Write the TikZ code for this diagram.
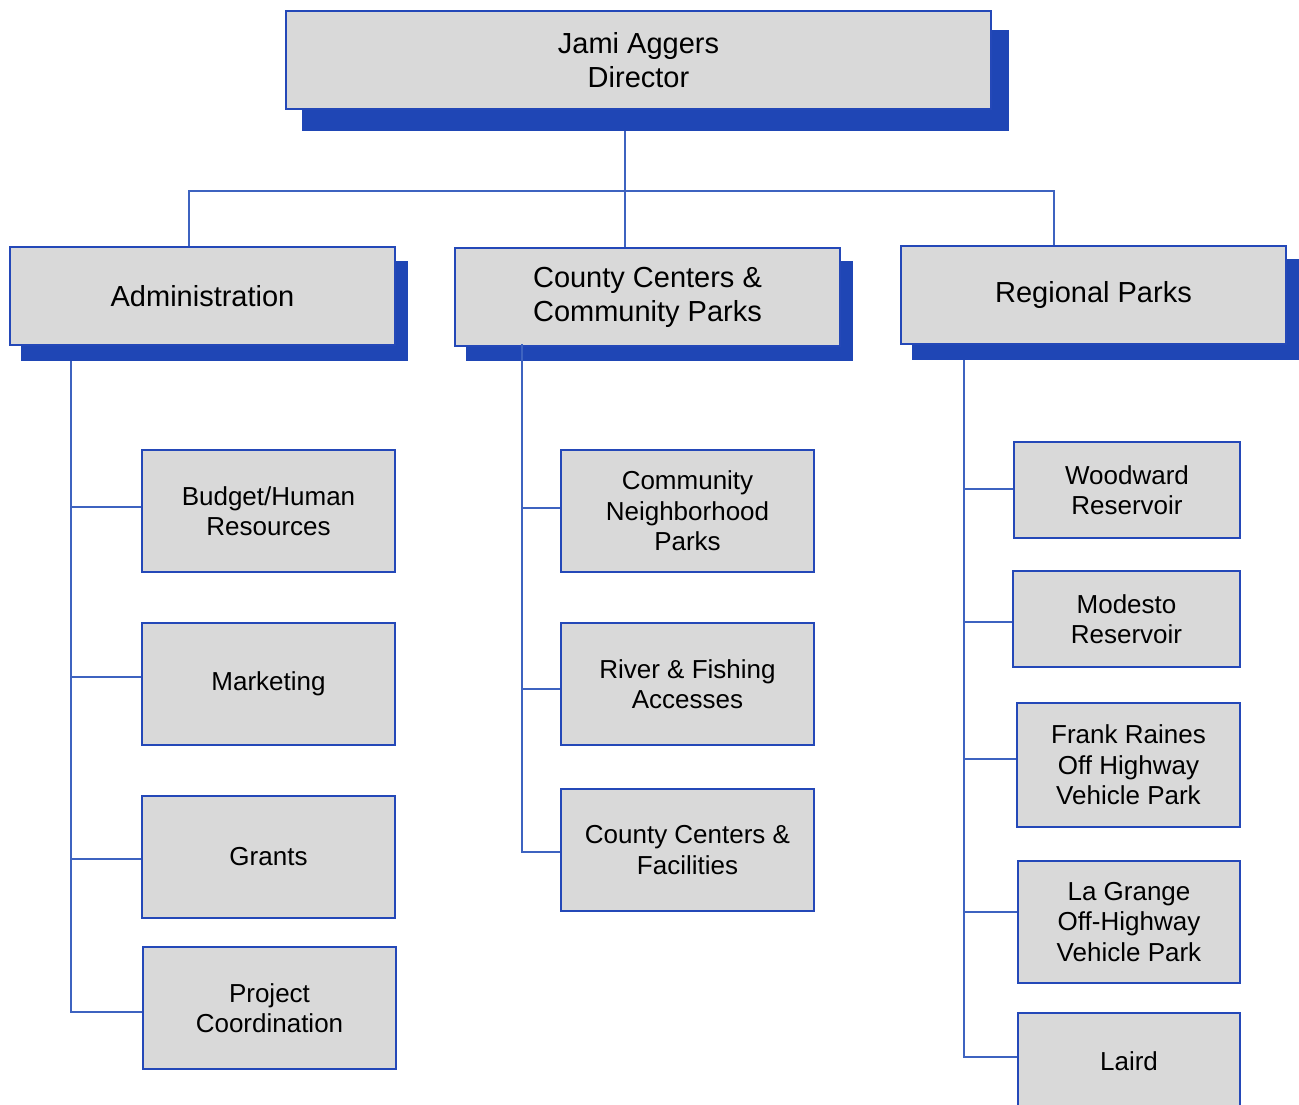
\documentclass[tikz,border=0pt]{standalone}
\usepackage{fontspec}
\setmainfont{Liberation Sans}
\definecolor{boxfill}{RGB}{217,217,217}
\definecolor{boxline}{RGB}{36,72,184}
\definecolor{shadowc}{RGB}{31,70,181}
\definecolor{connc}{RGB}{62,99,192}
\tikzset{
  orgbox/.style={draw=boxline, line width=1.5pt, fill=boxfill, inner sep=0pt, align=center, text=black},
  bigtext/.style={font=\fontsize{29}{34}\selectfont},
  smalltext/.style={font=\fontsize{26}{30.5}\selectfont},
  shadowbox/.style={fill=shadowc},
  conn/.style={draw=connc, line width=1.5pt},
}
\newcommand{\obox}[7]{%
  \node[orgbox,#7, minimum width={#4-#2}, minimum height={#5-#3}] (#1) at ({(#2+#4)/2},{(#3+#5)/2}) {#6};}
\begin{document}
\begin{tikzpicture}[x=1pt,y=-1pt]
\useasboundingbox (0,0) rectangle (1299,1105);
% shadows
\fill[shadowbox] (302,30) rectangle (1009,131);
\fill[shadowbox] (21,261) rectangle (408,361);
\fill[shadowbox] (466,261) rectangle (853,361);
\fill[shadowbox] (912,259) rectangle (1299,360);
% top-level boxes
\obox{dir}{286}{11}{991}{109}{Jami Aggers\\Director}{bigtext}
\obox{admin}{10}{247}{395}{345}{Administration}{bigtext}
\obox{county}{455}{248}{840}{346}{County Centers \&\\Community Parks}{bigtext}
\obox{regional}{901}{246}{1286}{344}{Regional Parks}{bigtext}
% admin children
\obox{budget}{142}{450}{395}{572}{Budget/Human\\Resources}{smalltext}
\obox{marketing}{142}{623}{395}{745}{Marketing}{smalltext}
\obox{grants}{142}{796}{395}{918}{Grants}{smalltext}
\obox{project}{143}{947}{396}{1069}{Project\\Coordination}{smalltext}
% county children
\obox{community}{561}{450}{814}{572}{Community\\Neighborhood\\Parks}{smalltext}
\obox{river}{561}{623}{814}{745}{River \& Fishing\\Accesses}{smalltext}
\obox{ccf}{561}{789}{814}{911}{County Centers \&\\Facilities}{smalltext}
% regional children
\obox{woodward}{1014}{442}{1240}{538}{Woodward\\Reservoir}{smalltext}
\obox{modesto}{1013}{571}{1240}{667}{Modesto\\Reservoir}{smalltext}
\obox{frank}{1017}{703}{1240}{827}{Frank Raines\\Off Highway\\Vehicle Park}{smalltext}
\obox{lagrange}{1018}{861}{1240}{983}{La Grange\\Off-Highway\\Vehicle Park}{smalltext}
\obox{laird}{1018}{1013}{1240}{1109}{Laird}{smalltext}
% top connectors
\coordinate (t0) at (625,131);
\coordinate (hb) at (625,191);
\coordinate (hl) at (189,191);
\coordinate (hr) at (1054,191);
\draw[conn] (t0) -- (t0 |- county.north);
\draw[conn] (hl |- admin.north) -- (hl) -- (hr) -- (hr |- regional.north);
% admin branch
\coordinate (a0) at (71,361);
\draw[conn] (a0) -- (71,1012) -- (project.west |- 71,1012);
\draw[conn] (71,507) -- (budget.west |- 71,507);
\draw[conn] (71,677) -- (marketing.west |- 71,677);
\draw[conn] (71,859) -- (grants.west |- 71,859);
% county branch
\coordinate (c0) at (522,344);
\draw[conn] (c0) -- (522,852) -- (ccf.west |- 522,852);
\draw[conn] (522,508) -- (community.west |- 522,508);
\draw[conn] (522,689) -- (river.west |- 522,689);
% regional branch
\coordinate (r0) at (964,360);
\draw[conn] (r0) -- (964,1057) -- (laird.west |- 964,1057);
\draw[conn] (964,489) -- (woodward.west |- 964,489);
\draw[conn] (964,622) -- (modesto.west |- 964,622);
\draw[conn] (964,759) -- (frank.west |- 964,759);
\draw[conn] (964,912) -- (lagrange.west |- 964,912);
\end{tikzpicture}
\end{document}
